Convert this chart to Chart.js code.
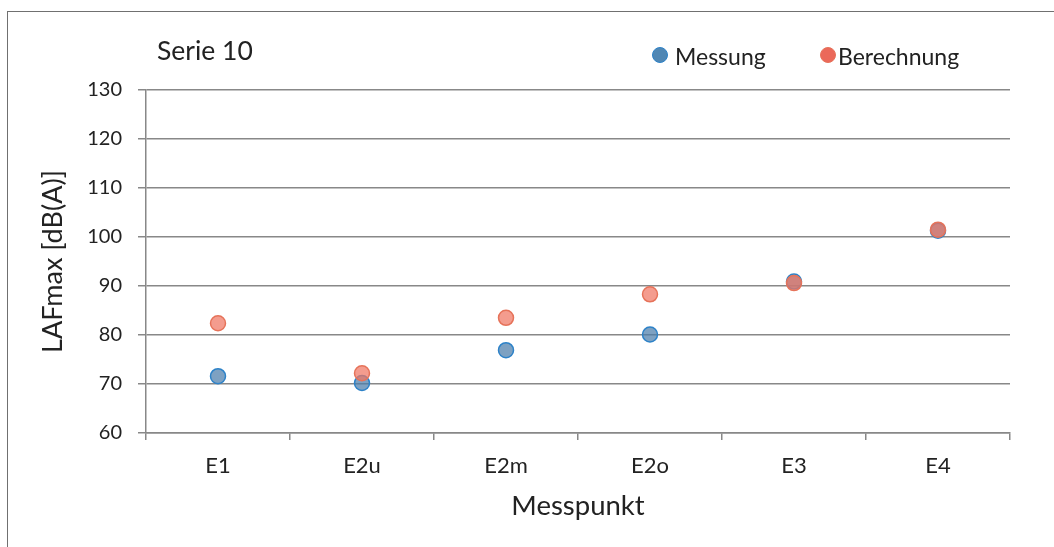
<!DOCTYPE html>
<html><head><meta charset="utf-8">
<script src="https://cdn.jsdelivr.net/npm/chart.js@4/dist/chart.umd.min.js"></script>
<style>
html,body{margin:0;padding:0;background:#fff;}
#wrap{position:relative;width:1054px;height:547px;overflow:hidden;font-family:Lato,sans-serif;color:#222;}
#frame{position:absolute;left:7px;top:11px;width:1100px;height:600px;border:1.5px solid #707070;}
canvas{position:absolute;left:0;top:0;}
.t{position:absolute;white-space:nowrap;}
.dot{position:absolute;width:16px;height:16px;border-radius:50%;box-sizing:border-box;border:1.5px solid;}
</style></head>
<body><div id="wrap"><div id="frame"></div><canvas id="c" width="1054" height="547" style="width:1054px;height:547px"></canvas>
<div class="t" id="title" style="left:157px;top:37px;font-size:26.5px;line-height:26.5px">Serie 10</div>
<div id="legend"></div>
</div>
<script>
const categories = ['E1', 'E2u', 'E2m', 'E2o', 'E3', 'E4'];
const messung = [71.6, 70.2, 76.9, 80.1, 90.9, 101.3];
const berechnung = [82.4, 72.2, 83.5, 88.3, 90.6, 101.5];
const seriesNames = ['Messung', 'Berechnung'];
const yMin = 60, yMax = 130, yStep = 10;

const colors = [
  {fill: 'rgba(75,125,170,0.72)', border: 'rgb(45,130,200)', legend: 'rgb(80,135,180)'},
  {fill: 'rgba(240,118,98,0.72)', border: 'rgb(230,115,90)', legend: 'rgb(235,105,90)'}
];

const FONT = 'Lato';
const chart = new Chart(document.getElementById('c'), {
  type: 'line',
  data: {
    labels: categories,
    datasets: [messung, berechnung].map((d, i) => ({
      label: seriesNames[i],
      data: d,
      order: 1 - i,
      showLine: false,
      pointRadius: 7.5,
      pointHoverRadius: 7.5,
      pointBorderWidth: 1.5,
      backgroundColor: colors[i].fill,
      borderColor: colors[i].border,
      pointBackgroundColor: colors[i].fill,
      pointBorderColor: colors[i].border
    }))
  },
  options: {
    responsive: false,
    animation: false,
    layout: {padding: {left: 37, top: 90, right: 44, bottom: 24}},
    plugins: {legend: {display: false}, title: {display: false}, tooltip: {enabled: false}},
    scales: {
      x: {
        type: 'category',
        offset: true,
        grid: {offset: true, drawOnChartArea: false, drawTicks: true, tickLength: 7, color: '#888', lineWidth: 1.5},
        border: {color: '#888', width: 1.5},
        ticks: {padding: 13, font: {family: FONT, size: 22}, color: '#222', maxRotation: 0},
        title: {display: true, text: 'Messpunkt', font: {family: FONT, size: 27.5}, color: '#222', padding: {top: 14, bottom: 0}},
        afterFit(s) { s.height = 90; }
      },
      y: {
        min: yMin, max: yMax,
        ticks: {stepSize: yStep, padding: 16, font: {family: FONT, size: 20}, color: '#222'},
        grid: {color: '#888', lineWidth: 1.5, tickLength: 8},
        border: {color: '#888', width: 1.5},
        title: {display: true, text: 'LAFmax [dB(A)]', font: {family: FONT, size: 27}, color: '#222', padding: {top: 0, bottom: 0}},
        afterFit(s) { s.width = 146 - 37; }
      }
    }
  }
});

// legend (HTML text) built from series names and colours
const legendPos = [{dot: 652, text: 675}, {dot: 820, text: 838}];
const lg = document.getElementById('legend');
seriesNames.forEach((name, i) => {
  const dot = document.createElement('div');
  dot.className = 'dot';
  dot.style.left = legendPos[i].dot + 'px';
  dot.style.top = '47px';
  dot.style.background = colors[i].legend;
  dot.style.borderColor = colors[i].border;
  lg.appendChild(dot);
  const t = document.createElement('div');
  t.className = 't';
  t.style.left = legendPos[i].text + 'px';
  t.style.top = '45px';
  t.style.fontSize = '23px';
  t.style.lineHeight = '23px';
  t.textContent = name;
  lg.appendChild(t);
});
</script>
</body></html>
